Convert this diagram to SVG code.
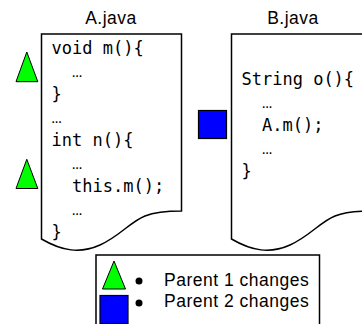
<svg xmlns="http://www.w3.org/2000/svg" width="362" height="324" viewBox="0 0 362 324">
<style>
.doc{fill:#fff;stroke:#000;stroke-width:1.5}
.code{font-family:"DejaVu Sans Mono","Liberation Mono",monospace;font-size:17px;fill:#000}
.dots{font-family:"Liberation Mono","DejaVu Sans Mono",monospace;font-size:17px;fill:#000}
.lbl{font-family:"Liberation Sans",Arial,sans-serif;font-size:17.5px;fill:#000;letter-spacing:0.5px}
.tri{fill:#00ff00;stroke:#000;stroke-width:1}
.sq{fill:#0000ff;stroke:#000;stroke-width:1.2}
</style>
<rect width="362" height="324" fill="#fff"/>
<g id="docA">
<path class="doc" d="M41.5,34 H181.5 V211 C166,211 155,212 145,216 C130,222 120,236 100,245 C80,254 62,251 41.5,239 Z"/>
<text class="lbl" x="111" y="24" text-anchor="middle">A.java</text>
<text class="code" x="51.5" y="54">void m(){</text>
<text class="dots" x="72" y="77">…</text>
<text class="code" x="51.5" y="100">}</text>
<text class="dots" x="51.5" y="123">…</text>
<text class="code" x="51.5" y="146">int n(){</text>
<text class="dots" x="72" y="169">…</text>
<text class="code" x="72" y="192">this.m();</text>
<text class="dots" x="72" y="215">…</text>
<text class="code" x="51.5" y="238">}</text>
</g>
<g id="docB">
<path class="doc" d="M231.5,34 H371.5 V211 C356,211 345,212 335,216 C320,222 310,236 290,245 C270,254 252,251 231.5,239 Z"/>
<text class="lbl" x="293" y="24" text-anchor="middle">B.java</text>
<text class="code" x="241.5" y="84.5">String o(){</text>
<text class="dots" x="262" y="107.5">…</text>
<text class="code" x="262" y="130.5">A.m();</text>
<text class="dots" x="262" y="153.5">…</text>
<text class="code" x="241.5" y="176.5">}</text>
</g>
<g id="markerA1"><polygon class="tri" points="26.8,52 16,81.7 37.8,81.7"/></g>
<g id="markerA2"><polygon class="tri" points="26.8,159.3 16,188.5 37.8,188.5"/></g>
<g id="markerB"><rect class="sq" x="198.5" y="110.5" width="28" height="28"/></g>
<g id="legend">
<rect x="96" y="255" width="223.5" height="80" fill="#fff" stroke="#000" stroke-width="1.5"/>
<polygon class="tri" points="114,261 102.5,289 125.5,289"/>
<rect class="sq" x="100" y="295.5" width="28" height="28"/>
<circle cx="139" cy="281" r="3.5" fill="#000"/>
<circle cx="139" cy="303" r="3.5" fill="#000"/>
<text class="lbl" x="164" y="286">Parent 1 changes</text>
<text class="lbl" x="164" y="307">Parent 2 changes</text>
</g>
<g id="connectors"/>
</svg>
